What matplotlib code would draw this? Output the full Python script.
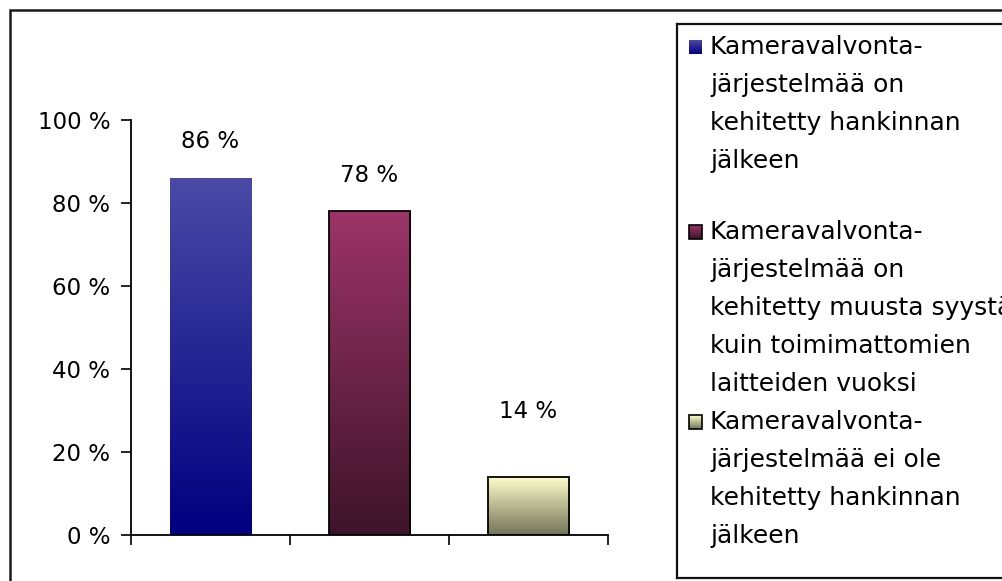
"""Pylväskaavio kameravalvontajärjestelmän kehittämisestä hankinnan jälkeen"""
import numpy as np
import matplotlib
matplotlib.use("Agg")
import matplotlib.pyplot as plt
from matplotlib.patches import Rectangle
from matplotlib.colors import LinearSegmentedColormap

categories = [
    "Kameravalvonta-\njärjestelmää on\nkehitetty hankinnan\njälkeen",
    "Kameravalvonta-\njärjestelmää on\nkehitetty muusta syystä\nkuin toimimattomien\nlaitteiden vuoksi",
    "Kameravalvonta-\njärjestelmää ei ole\nkehitetty hankinnan\njälkeen",
]
shares = [86, 78, 14]
y_ticks = [0, 20, 40, 60, 80, 100]

# (top colour, bottom colour, edge colour) for each bar
gradients = [
    ("#4a4aa6", "#000080", "none"),
    ("#9c3468", "#3d1428", "black"),
    ("#ffffcc", "#737358", "black"),
]

W, H, DPI = 1003, 581, 100
FONT = "DejaVu Sans"
FS = 16.5
FS_LEGEND = 18


def gradient_fill(ax, x0, x1, y0, y1, top, bottom, clip=None):
    """Vertical colour gradient in a rectangle"""
    cmap = LinearSegmentedColormap.from_list("g", [bottom, top])
    grad = np.linspace(0, 1, 256).reshape(-1, 1)
    im = ax.imshow(grad, cmap=cmap, aspect="auto", origin="lower",
                   extent=(x0, x1, y0, y1), zorder=2, interpolation="bilinear")
    if clip is not None:
        im.set_clip_path(clip)
    return im


def plot():
    fig = plt.figure(figsize=(W / DPI, H / DPI), dpi=DPI)
    fig.patch.set_facecolor("white")

    # outer frame of the chart area
    fig.add_artist(Rectangle((10 / W, -0.05), 1.1, (H - 10) / H + 0.05,
                             transform=fig.transFigure, fill=False,
                             edgecolor="#1a1a1a", linewidth=1.8))

    ax = fig.add_axes([131 / W, (H - 535) / H, (608 - 131) / W, (535 - 120) / H])
    x = np.arange(len(shares))
    bars = ax.bar(x, shares, width=0.51, color="none", zorder=3)
    for bar, (top, bottom, edge) in zip(bars, gradients):
        bx, bw, bh = bar.get_x(), bar.get_width(), bar.get_height()
        gradient_fill(ax, bx, bx + bw, 0, bh, top, bottom, clip=bar)
        if edge != "none":
            bar.set_edgecolor(edge)
            bar.set_linewidth(1.3)

    label_pad = [26, 26, 47]
    for xi, val, pad in zip(x, shares, label_pad):
        ax.annotate(f"{val} %", (xi, val), xytext=(0, pad),
                    textcoords="offset points", ha="center", va="center",
                    fontsize=FS, family=FONT)

    ax.set_xlim(-0.5, len(shares) - 0.5)
    ax.set_ylim(0, 100)
    ax.set_yticks(y_ticks)
    ax.set_yticklabels([f"{t} %" for t in y_ticks], fontsize=FS, family=FONT)
    ax.set_xticks(np.arange(len(shares) + 1) - 0.5)
    ax.set_xticklabels([])
    ax.tick_params(axis="both", direction="out", length=7, width=1.2, color="black")
    ax.tick_params(axis="y", pad=8)
    for side in ("top", "right"):
        ax.spines[side].set_visible(False)
    for side in ("left", "bottom"):
        ax.spines[side].set_linewidth(1.3)
    ax.set_facecolor("none")

    # legend box, laid out in pixel units
    lx0, ly0, lw, lh = 677, 24, 400, 554
    lax = fig.add_axes([lx0 / W, (H - ly0 - lh) / H, lw / W, lh / H])
    lax.set_xlim(lx0, lx0 + lw)
    lax.set_ylim(ly0 + lh, ly0)
    lax.set_xticks([])
    lax.set_yticks([])
    for sp in lax.spines.values():
        sp.set_linewidth(1.6)
        sp.set_color("#111111")

    entry_start = [47, 232, 422]
    line_step = 38
    for label, start, (top, bottom, edge) in zip(categories, entry_start, gradients):
        sq = Rectangle((689, start - 7), 13, 14, fill=False,
                       edgecolor=edge if edge != "none" else "none",
                       linewidth=1.2, zorder=3)
        lax.add_patch(sq)
        gradient_fill(lax, 689, 702, start + 7, start - 7, top, bottom)
        for i, line in enumerate(label.split("\n")):
            lax.text(710, start + i * line_step, line, fontsize=FS_LEGEND,
                     family=FONT, va="center", ha="left", clip_on=False)

    fig.savefig("out.png", dpi=DPI)


if __name__ == "__main__":
    plot()
